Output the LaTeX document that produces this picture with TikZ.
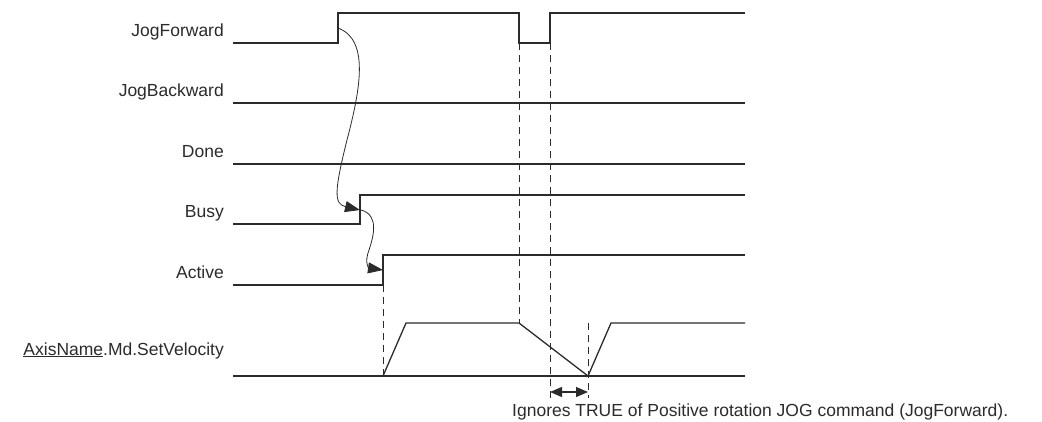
\documentclass[tikz,border=0pt]{standalone}
\usepackage{fontspec}
\setmainfont{Liberation Sans}
\usetikzlibrary{arrows.meta}
\definecolor{wave}{HTML}{2B2B2B}
\tikzset{
  sig/.style={draw=wave, line width=1.3pt},
  guide/.style={draw=wave, line width=0.9pt, dash pattern=on 7pt off 5pt},
  cause/.style={draw=wave, line width=0.8pt, -{Stealth[length=15pt,width=11pt,inset=0pt]}},
  lbl/.style={anchor=base east, inner sep=0pt, font=\fontsize{17.5}{20}\selectfont, text=wave},
  note/.style={anchor=base west, inner sep=0pt, font=\fontsize{17.5}{20}\selectfont, text=wave}
}
\begin{document}
\begin{tikzpicture}[x=1pt,y=-1pt]
\useasboundingbox (0,0) rectangle (1042,421);
% labels
\node[lbl] (lJF) at (224,36.5) {JogForward};
\node[lbl] (lJB) at (224,96.5) {JogBackward};
\node[lbl] (lD) at (224,157.5) {Done};
\node[lbl] (lB) at (224,217.5) {Busy};
\node[lbl] (lA) at (224,278.5) {Active};
\node[lbl] (lV) at (224,355) {\underline{AxisName}.Md.SetVelocity};
% waveforms
\draw[sig] (233,43) -- (338,43) -- (338,13) -- (519,13) -- (519,43) -- (550,43) -- (550,13) -- (745,13);
\draw[sig] (233,103) -- (745,103);
\draw[sig] (233,164) -- (745,164);
\draw[sig] (233,224) -- (360,224) -- (360,195) -- (745,195);
\draw[sig] (233,285) -- (383,285) -- (383,255) -- (745,255);
\draw[sig] (233,376) -- (745,376);
\draw[sig] (383,376) -- (406,323) -- (519,323) -- (588,376) -- (611,323) -- (745,323);
% guides
\draw[guide] (383,285) -- (383,376);
\draw[guide] (519,43) -- (519,323);
\draw[guide] (550,43) -- (550,398);
\draw[guide] (588,323) -- (588,398);
% cause arrows
\coordinate (c1s) at (338,28);
\coordinate (c1e) at (360,210);
\coordinate (c2s) at (361,210);
\coordinate (c2e) at (383,270);
\draw[cause] (c1s) .. controls (370,40) and (360,90) .. (347,140) .. controls (334,192) and (334,204) .. (c1e);
\draw[cause] (c2s) .. controls (380,215) and (373,238) .. (369,250) .. controls (364,263) and (369,268) .. (c2e);
% interval
\coordinate (i1) at (550,392);
\coordinate (i2) at (588,392);
\draw[draw=wave, line width=1.2pt, {Stealth[length=12pt,width=10pt,inset=0pt]}-{Stealth[length=12pt,width=10pt,inset=0pt]}] (i1) -- (i2);
\node[note] (n) at (512,416) {Ignores TRUE of Positive rotation JOG command (JogForward).};
\end{tikzpicture}
\end{document}
